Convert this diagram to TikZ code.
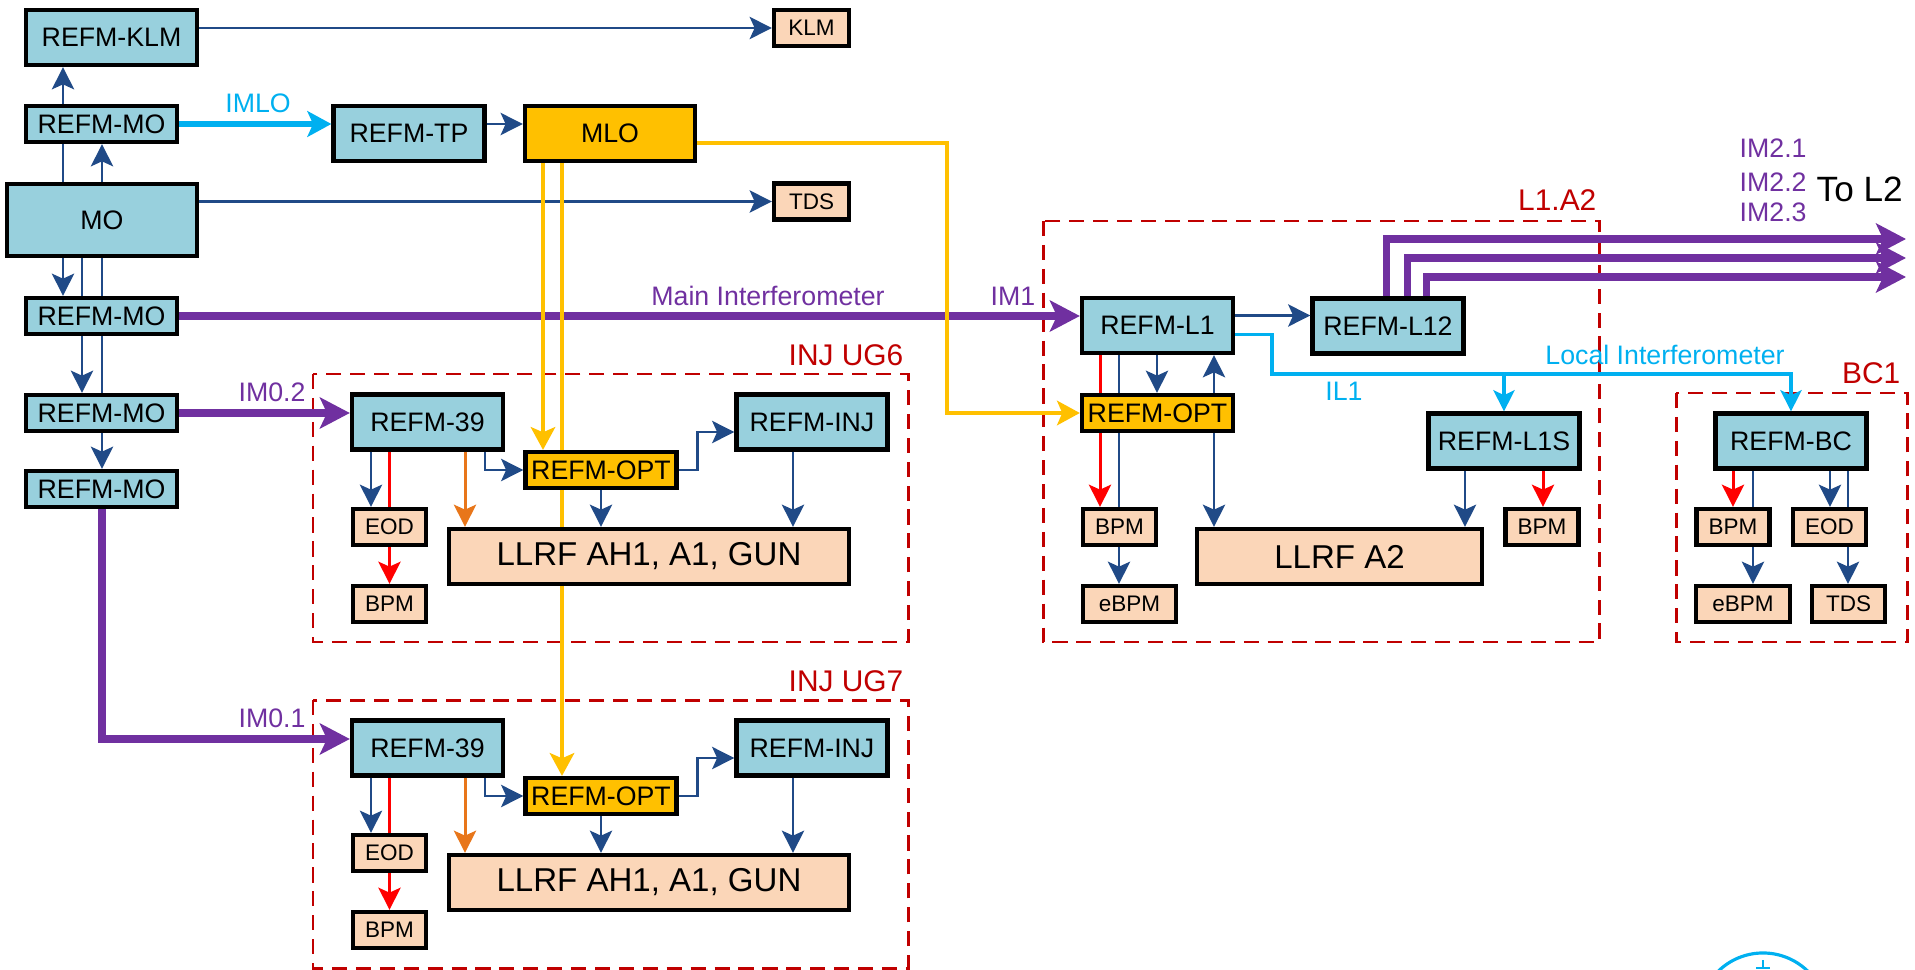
\documentclass[tikz,border=0pt]{standalone}
\usepackage{fontspec}
\setmainfont{Liberation Sans}
\usepackage{tikz}
\usetikzlibrary{shapes,arrows,arrows.meta}

\definecolor{refblue}{HTML}{98D0DD}
\definecolor{optyellow}{HTML}{FFC000}
\definecolor{devpeach}{HTML}{FBD6B8}
\definecolor{linkblue}{HTML}{204A87}
\definecolor{imviolet}{HTML}{7030A0}
\definecolor{ilcyan}{HTML}{00B0F0}
\definecolor{areared}{HTML}{C00000}
\definecolor{ugorange}{HTML}{E8761A}

\newcommand{\boxfont}{\fontsize{7.6}{9}\selectfont}
\newcommand{\devfont}{\fontsize{6.4}{8}\selectfont}
\newcommand{\llrffont}{\fontsize{9.4}{11}\selectfont}
\newcommand{\areafont}{\fontsize{8.5}{10}\selectfont}

\tikzstyle{refbox}=[rectangle, draw=black, line width=1.2pt, fill=refblue, text=black, font=\boxfont,
        inner sep=1pt, minimum width=1.51cm, minimum height=0.55cm]
\tikzstyle{slimbox}=[refbox, minimum height=0.36cm]
\tikzstyle{optbox}=[slimbox, fill=optyellow]
\tikzstyle{devbox}=[refbox, fill=devpeach, font=\devfont, minimum width=0.73cm, minimum height=0.36cm]
\tikzstyle{llrfbox}=[refbox, fill=devpeach, font=\llrffont]
\tikzstyle{area}=[draw=areared, line width=0.85pt, dash pattern=on 4.3pt off 2.5pt]
\tikzstyle{arealabel}=[text=areared, font=\areafont, anchor=east, inner sep=0pt]
\tikzstyle{imlabel}=[text=imviolet, font=\boxfont, inner sep=0pt]
\tikzstyle{illabel}=[text=ilcyan, font=\boxfont, inner sep=0pt]
\tikzstyle{blline}=[draw=linkblue, line width=0.8pt]
\tikzstyle{blarrow}=[blline, ->, >={Stealth[length=6.3pt, width=6.3pt, inset=1.4pt]}]
\tikzstyle{redline}=[draw=red, line width=0.85pt]
\tikzstyle{redarrow}=[redline, ->, >={Stealth[length=6.3pt, width=6.3pt, inset=1.4pt]}]
\tikzstyle{ugarrow}=[draw=ugorange, line width=0.85pt, ->, >={Stealth[length=6.3pt, width=6.3pt, inset=1.4pt]}]
\tikzstyle{mloline}=[draw=optyellow, line width=0.9pt]
\tikzstyle{mloarrow}=[mloline, ->, >={Stealth[length=6.5pt, width=7pt, inset=1.5pt]}]
\tikzstyle{imarrow}=[draw=imviolet, line width=2pt, ->, >={Stealth[length=8.5pt, width=8.8pt, inset=2pt]}]
\tikzstyle{imloarrow}=[draw=ilcyan, line width=1.5pt, ->, >={Stealth[length=6.8pt, width=7.3pt, inset=1.6pt]}]
\tikzstyle{ilarrow}=[draw=ilcyan, line width=1.1pt, ->, >={Stealth[length=6pt, width=6pt, inset=1.4pt]}]

\begin{document}
\begin{tikzpicture}[x=0.01cm, y=-0.01cm]
\useasboundingbox (0,0) rectangle (1915,970);

% areas
\draw[area] (313,374) rectangle (908,642);
\draw[area] (313,700) rectangle (908,968);
\draw[area] (1043,221) rectangle (1599,642);
\draw[area] (1676,393) rectangle (1907,642);
\node (LblUG6) [arealabel] at (904,355) {INJ UG6};
\node (LblUG7) [arealabel] at (904,681) {INJ UG7};
\node (LblL1A2) [arealabel] at (1597,200) {L1.A2};
\node (LblBC1) [arealabel] at (1901,373) {BC1};

% master oscillator column
\node (RefmKLM) [refbox, minimum width=1.71cm] at (111.5,37.5) {REFM-KLM};
\node (KLM) [devbox, minimum width=0.75cm] at (811.5,28) {KLM};
\node (RefmMO1) [slimbox] at (101.5,124) {REFM-MO};
\node (RefmTP) [refbox] at (409,133.5) {REFM-TP};
\node (MLO) [refbox, fill=optyellow, minimum width=1.70cm] at (610,133.5) {MLO};
\node (MO) [refbox, minimum width=1.90cm, minimum height=0.72cm] at (102,220) {MO};
\node (TDS) [devbox, minimum width=0.75cm] at (811.5,201.5) {TDS};
\node (RefmMO2) [slimbox] at (101.5,316) {REFM-MO};
\node (RefmMO3) [slimbox] at (101.5,413) {REFM-MO};
\node (RefmMO4) [slimbox] at (101.5,489) {REFM-MO};

% INJ UG6
\node (Refm39A) [refbox] at (427.5,422) {REFM-39};
\node (OptA) [optbox] at (601,470) {REFM-OPT};
\node (InjA) [refbox] at (812,422) {REFM-INJ};
\node (EodA) [devbox] at (389.5,527) {EOD};
\node (BpmA) [devbox] at (389.5,604) {BPM};
\node (LlrfA) [llrfbox, minimum width=4.00cm] at (649,556.5) {LLRF AH1, A1, GUN};

% INJ UG7
\node (Refm39B) [refbox] at (427.5,748) {REFM-39};
\node (OptB) [optbox] at (601,796) {REFM-OPT};
\node (InjB) [refbox] at (812,748) {REFM-INJ};
\node (EodB) [devbox] at (389.5,853) {EOD};
\node (BpmB) [devbox] at (389.5,930) {BPM};
\node (LlrfB) [llrfbox, minimum width=4.00cm] at (649,882.5) {LLRF AH1, A1, GUN};

% L1.A2
\node (RefmL1) [refbox] at (1157.5,325.5) {REFM-L1};
\node (RefmL12) [refbox] at (1388,326) {REFM-L12};
\node (OptL1) [optbox] at (1157.5,413) {REFM-OPT};
\node (RefmL1S) [refbox] at (1504,441) {REFM-L1S};
\node (BpmL1) [devbox] at (1119.5,527) {BPM};
\node (EbpmL1) [devbox, minimum width=0.93cm] at (1129.5,604) {eBPM};
\node (LlrfA2) [llrfbox, minimum width=2.85cm] at (1339.5,556.5) {LLRF A2};
\node (BpmL1S) [devbox] at (1542,527) {BPM};

% BC1
\node (RefmBC) [refbox] at (1791,441) {REFM-BC};
\node (BpmBC) [devbox] at (1733,527) {BPM};
\node (EodBC) [devbox] at (1829.5,527) {EOD};
\node (EbpmBC) [devbox, minimum width=0.94cm] at (1743,604) {eBPM};
\node (TdsBC) [devbox] at (1848.5,604) {TDS};

% labels
\node (LblIMLO) [illabel] at (258,103) {IMLO};
\node (LblMain) [imlabel] at (768,296) {Main Interferometer};
\node (LblIM1) [imlabel] at (1013,296) {IM1};
\node (LblIM02) [imlabel] at (272,392) {IM0.2};
\node (LblIM01) [imlabel] at (272,718) {IM0.1};
\node (LblLocal) [illabel] at (1665,355) {Local Interferometer};
\node (LblIL1) [illabel] at (1344,391) {IL1};
\node (LblIM21) [imlabel, anchor=west] at (1739,148) {IM2.1};
\node (LblIM22) [imlabel, anchor=west] at (1739,182) {IM2.2};
\node (LblIM23) [imlabel, anchor=west] at (1739,212) {IM2.3};
\node (LblToL2) [font=\fontsize{10}{12}\selectfont, anchor=west, inner sep=0pt] at (1816,189) {To L2};
\coordinate (ToL2a) at (1906,239);
\coordinate (ToL2b) at (1906,258);
\coordinate (ToL2c) at (1906,277);

% MO distribution
\draw[blarrow] (RefmKLM.east |- KLM.west) -- (KLM.west);
\draw[blarrow] (MO.east |- TDS.west) -- (TDS.west);
\draw[blarrow] (63,0 |- RefmMO1.north) -- (63,0 |- RefmKLM.south);
\draw[blline] (63,0 |- MO.north) -- (63,0 |- RefmMO1.south);
\draw[blarrow] (102,0 |- MO.north) -- (102,0 |- RefmMO1.south);
\draw[imloarrow] (RefmMO1.east) -- (RefmMO1.east -| RefmTP.west);
\draw[blarrow] (RefmTP.east |- RefmMO1.east) -- (MLO.west |- RefmMO1.east);
\draw[blarrow] (63,0 |- MO.south) -- (63,0 |- RefmMO2.north);
\draw[blline] (82,0 |- MO.south) -- (82,0 |- RefmMO2.north);
\draw[blline] (102,0 |- MO.south) -- (102,0 |- RefmMO2.north);
\draw[blarrow] (82,0 |- RefmMO2.south) -- (82,0 |- RefmMO3.north);
\draw[blline] (102,0 |- RefmMO2.south) -- (102,0 |- RefmMO3.north);
\draw[blarrow] (102,0 |- RefmMO3.south) -- (102,0 |- RefmMO4.north);

% interferometer links
\draw[imarrow] (RefmMO2.east) -- (RefmMO2.east -| RefmL1.west);
\draw[imarrow] (RefmMO3.east) -- (RefmMO3.east -| Refm39A.west);
\draw[imarrow] (102,0 |- RefmMO4.south) |- ([yshift=0.09cm]Refm39B.west);
\draw[imarrow] (1386,0 |- RefmL12.north) |- (ToL2a);
\draw[imarrow] (1407,0 |- RefmL12.north) |- (ToL2b);
\draw[imarrow] (1426,0 |- RefmL12.north) |- (ToL2c);
\draw[ilarrow] ([yshift=-0.09cm]RefmL1.east) -| (1272,374) -| (RefmBC.north);
\draw[ilarrow] (RefmL1S.north |- 0,374) -- (RefmL1S.north);

% MLO
\draw[mloarrow] (543,0 |- MLO.south) -- (543,0 |- OptA.north);
\draw[mloline] (562,0 |- MLO.south) -- (562,0 |- OptA.north);
\draw[mloline] (562,0 |- OptA.south) -- (562,0 |- LlrfA.north);
\draw[mloarrow] (562,0 |- LlrfA.south) -- (562,0 |- OptB.north);
\draw[mloarrow] ([yshift=-0.095cm]MLO.east) -| (947,0 |- OptL1.west) -- (OptL1.west);

% INJ UG6
\draw[blarrow] (371,0 |- Refm39A.south) -- (371,0 |- EodA.north);
\draw[redline] (389.5,0 |- Refm39A.south) -- (EodA.north);
\draw[redarrow] (EodA.south) -- (BpmA.north);
\draw[ugarrow] (465,0 |- Refm39A.south) -- (465,0 |- LlrfA.north);
\draw[blarrow] (485,0 |- Refm39A.south) |- (OptA.west);
\draw[blarrow] (OptA.east) -- ++(19,0) |- ([yshift=-0.1cm]InjA.west);
\draw[blarrow] (OptA.south) -- (OptA.south |- LlrfA.north);
\draw[blarrow] (793,0 |- InjA.south) -- (793,0 |- LlrfA.north);

% INJ UG7
\draw[blarrow] (371,0 |- Refm39B.south) -- (371,0 |- EodB.north);
\draw[redline] (389.5,0 |- Refm39B.south) -- (EodB.north);
\draw[redarrow] (EodB.south) -- (BpmB.north);
\draw[ugarrow] (465,0 |- Refm39B.south) -- (465,0 |- LlrfB.north);
\draw[blarrow] (485,0 |- Refm39B.south) |- (OptB.west);
\draw[blarrow] (OptB.east) -- ++(19,0) |- ([yshift=-0.1cm]InjB.west);
\draw[blarrow] (OptB.south) -- (OptB.south |- LlrfB.north);
\draw[blarrow] (793,0 |- InjB.south) -- (793,0 |- LlrfB.north);

% L1.A2
\draw[blarrow] ([yshift=0.1cm]RefmL1.east) -- ([yshift=0.1cm]RefmL1.east -| RefmL12.west);
\draw[redline] (1100,0 |- RefmL1.south) -- (1100,0 |- OptL1.north);
\draw[redarrow] (1100,0 |- OptL1.south) -- (1100,0 |- BpmL1.north);
\draw[blline] (1119,0 |- RefmL1.south) -- (1119,0 |- OptL1.north);
\draw[blline] (1119,0 |- OptL1.south) -- (1119,0 |- BpmL1.north);
\draw[blarrow] (1119,0 |- BpmL1.south) -- (1119,0 |- EbpmL1.north);
\draw[blarrow] (1157,0 |- RefmL1.south) -- (1157,0 |- OptL1.north);
\draw[blarrow] (1214,0 |- OptL1.north) -- (1214,0 |- RefmL1.south);
\draw[blarrow] (1214,0 |- OptL1.south) -- (1214,0 |- LlrfA2.north);
\draw[blarrow] (1465,0 |- RefmL1S.south) -- (1465,0 |- LlrfA2.north);
\draw[redarrow] (1543,0 |- RefmL1S.south) -- (1543,0 |- BpmL1S.north);

% BC1
\draw[redarrow] (1733,0 |- RefmBC.south) -- (1733,0 |- BpmBC.north);
\draw[blline] (1753,0 |- RefmBC.south) -- (1753,0 |- BpmBC.north);
\draw[blarrow] (1753,0 |- BpmBC.south) -- (1753,0 |- EbpmBC.north);
\draw[blarrow] (1830,0 |- RefmBC.south) -- (1830,0 |- EodBC.north);
\draw[blline] (1848,0 |- RefmBC.south) -- (1848,0 |- EodBC.north);
\draw[blarrow] (1848,0 |- EodBC.south) -- (1848,0 |- TdsBC.north);

% logo, cut by the page edge
\begin{scope}
\clip (0,0) rectangle (1915,970);
\draw[ilcyan, line width=0.9pt] (1763,1017) circle [radius=0.64cm];
\draw[ilcyan, line width=0.8pt] (1763,960) -- (1763,968) (1756,968) -- (1770,968);
\end{scope}
\end{tikzpicture}
\end{document}
